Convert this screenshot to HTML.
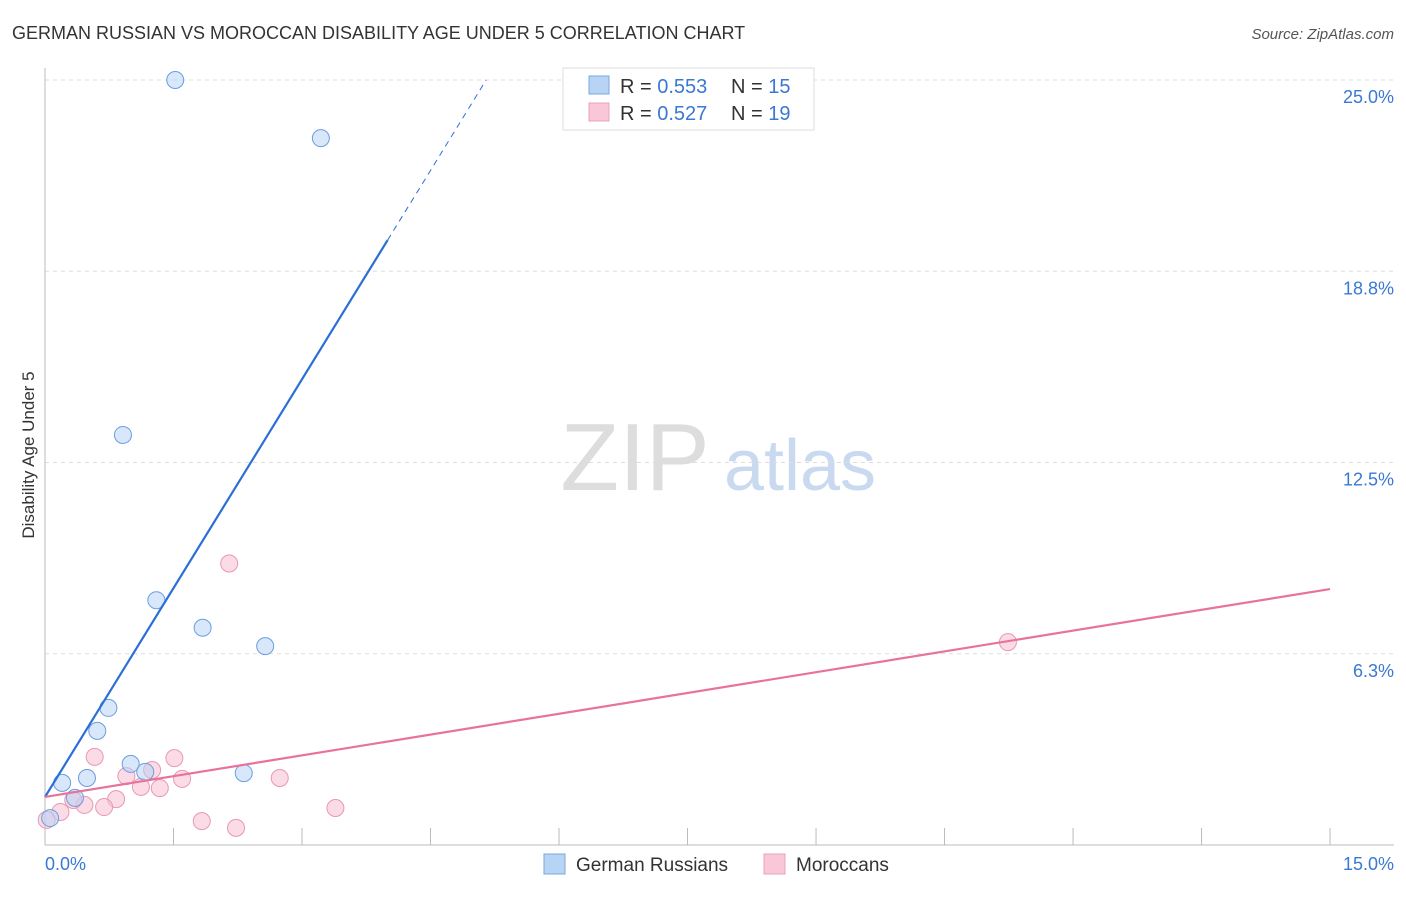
<!DOCTYPE html>
<html><head><meta charset="utf-8"><style>
body{margin:0;background:#fff;font-family:"Liberation Sans",sans-serif;}
svg text{font-family:"Liberation Sans",sans-serif;}
</style></head><body>
<svg id="chart" width="1406" height="892">
<text x="12" y="39" font-size="18" fill="#333">GERMAN RUSSIAN VS MOROCCAN DISABILITY AGE UNDER 5 CORRELATION CHART</text>
<text x="1394" y="39" font-size="15" fill="#555" font-style="italic" text-anchor="end">Source: ZipAtlas.com</text>
<text x="34" y="455" font-size="17" fill="#333" text-anchor="middle" transform="rotate(-90 34 455)">Disability Age Under 5</text>
<g><text x="635" y="490" font-size="96" fill="#ddd" font-family="Liberation Serif" text-anchor="middle">ZIP</text><text x="800" y="490" font-size="72" fill="#c9d9f0" text-anchor="middle">atlas</text></g>
<g id="grid"></g><g id="marks"></g>
<g>
<rect x="563" y="68" width="251" height="62" fill="#fff" stroke="#ddd"/>
<rect x="589" y="76" width="20" height="18" fill="#b8d4f5" stroke="#7aa7e0"/>
<rect x="589" y="103" width="20" height="18" fill="#f8c8d8" stroke="#eda0b8"/>
<text x="620" y="93" font-size="20" fill="#333">R = <tspan fill="#3a78d4">0.553</tspan></text>
<text x="731" y="93" font-size="20" fill="#333">N = <tspan fill="#3a78d4">15</tspan></text>
<text x="620" y="120" font-size="20" fill="#333">R = <tspan fill="#3a78d4">0.527</tspan></text>
<text x="731" y="120" font-size="20" fill="#333">N = <tspan fill="#3a78d4">19</tspan></text>
</g>
<g>
<rect x="544" y="854" width="21" height="20" fill="#b8d4f5" stroke="#7aa7e0"/>
<text x="576" y="871" font-size="19" fill="#333">German Russians</text>
<rect x="764" y="854" width="21" height="20" fill="#f8c8d8" stroke="#eda0b8"/>
<text x="796" y="871" font-size="19" fill="#333">Moroccans</text>
</g>
</svg>
<script>
const xTicks=[0,1.5,3,4.5,6,7.5,9,10.5,12,13.5,15];
const yTicks=[6.25,12.5,18.75,25];
const yTickLabels=["6.3%","12.5%","18.8%","25.0%"];
const blueX=[1.52,3.22,0.91,1.30,1.84,2.57,0.74,0.61,1.00,1.17,2.32,0.49,0.20,0.35,0.06];
const blueY=[25.0,23.1,13.4,8.0,7.1,6.5,4.48,3.73,2.65,2.39,2.35,2.19,2.03,1.54,0.88];
const pinkX=[2.15,11.24,0.58,1.51,1.25,0.95,1.60,2.74,1.12,1.34,0.83,0.46,0.69,0.33,3.39,1.83,2.23,0.18,0.02];
const pinkY=[9.2,6.63,2.88,2.84,2.45,2.25,2.16,2.19,1.90,1.86,1.50,1.31,1.24,1.47,1.21,0.78,0.56,1.08,0.82];
const blueFit=[1.57,4.55];
const pinkFit=[1.57,0.453];
const X=v=>45+v*85.67, Y=v=>845-v*30.6;
const NS="http://www.w3.org/2000/svg";
function mk(t,a,p){const e=document.createElementNS(NS,t);for(const k in a)e.setAttribute(k,a[k]);p.appendChild(e);return e;}
const g=document.getElementById('grid'),m=document.getElementById('marks');
yTicks.forEach((t,i)=>{
const l=mk('line',{x1:45,x2:1394,y1:Y(t),y2:Y(t),stroke:'#ddd','stroke-dasharray':'4,4'},g);


const tx=mk('text',{x:1394,y:Y(t)+23,'font-size':18,fill:'#3a78d4','text-anchor':'end'},g);
tx.textContent=yTickLabels[i];


});
const axY=mk('line',{x1:45,x2:45,y1:68,y2:845,stroke:'#bbb'},g);


const axX=mk('line',{x1:45,x2:1394,y1:845,y2:845,stroke:'#bbb'},g);


xTicks.forEach(t=>{const l=mk('line',{x1:X(t),x2:X(t),y1:828,y2:845,stroke:'#bbb'},g);

});
const xl0=mk('text',{x:45,y:870,'font-size':18,fill:'#3a78d4'},g);xl0.textContent=xTicks[0].toFixed(1)+'%';


const xl1=mk('text',{x:1394,y:870,'font-size':18,fill:'#3a78d4','text-anchor':'end'},g);xl1.textContent=xTicks[10].toFixed(1)+'%';


function dots(xs,ys,f,s,n){xs.forEach((x,i)=>{const c=mk('circle',{cx:X(x),cy:Y(ys[i]),r:8.5,fill:f,'fill-opacity':0.55,stroke:s,'stroke-width':1},m);

});}
dots(pinkX,pinkY,'#f8c0d2','#e898b2','moroccan-point');
dots(blueX,blueY,'#b8d4f5','#6a9ee0','german-russian-point');
const bEnd=4.0,bDash=(25-blueFit[0])/blueFit[1];
const bl=mk('line',{x1:X(0),y1:Y(blueFit[0]),x2:X(bEnd),y2:Y(blueFit[0]+blueFit[1]*bEnd),stroke:'#2a6fd6','stroke-width':2.2},m);


const bd=mk('line',{x1:X(bEnd),y1:Y(blueFit[0]+blueFit[1]*bEnd),x2:X(bDash),y2:Y(blueFit[0]+blueFit[1]*bDash),stroke:'#2a6fd6','stroke-width':1,'stroke-dasharray':'6,5'},m);


const pl=mk('line',{x1:X(0),y1:Y(pinkFit[0]),x2:X(15),y2:Y(pinkFit[0]+pinkFit[1]*15),stroke:'#e8739a','stroke-width':2.2},m);


</script>
</body></html>
